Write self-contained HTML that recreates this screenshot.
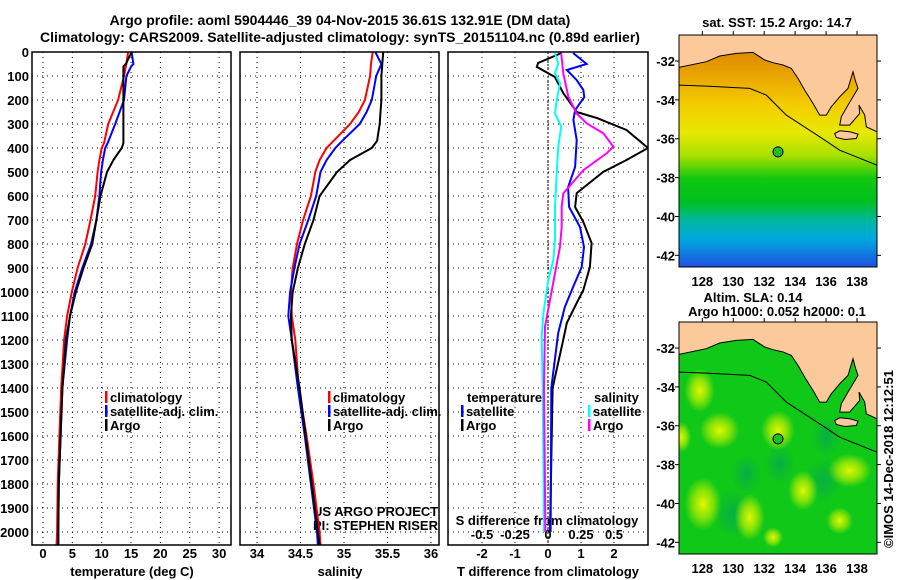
<!DOCTYPE html>
<html><head><meta charset="utf-8"><style>
html,body{margin:0;padding:0;background:#fff;}
svg{display:block;font-family:"Liberation Sans",Arial,sans-serif;}
.b{font-weight:bold;font-size:13px;}
.t{font-weight:bold;font-size:14px;}
</style></head><body>
<svg id="chart" width="900" height="580" viewBox="0 0 900 580" xmlns="http://www.w3.org/2000/svg">
<defs>
<linearGradient id="sstg" x1="0" y1="0" x2="0" y2="1">
<stop offset="0" stop-color="#d67800"/><stop offset="0.16" stop-color="#e8a000"/><stop offset="0.3" stop-color="#f4cc00"/>
<stop offset="0.42" stop-color="#e8e800"/><stop offset="0.52" stop-color="#a8e000"/><stop offset="0.62" stop-color="#10c810"/>
<stop offset="0.72" stop-color="#00c020"/><stop offset="0.8" stop-color="#00b8a0"/><stop offset="0.88" stop-color="#00a8e0"/>
<stop offset="1" stop-color="#2050e0"/></linearGradient>
<radialGradient id="blob"><stop offset="0" stop-color="#e0f800" stop-opacity="1"/><stop offset="0.5" stop-color="#c0f000" stop-opacity="0.7"/><stop offset="1" stop-color="#c0f000" stop-opacity="0"/></radialGradient>
<radialGradient id="dblob"><stop offset="0" stop-color="#00a060" stop-opacity="0.6"/><stop offset="1" stop-color="#00a060" stop-opacity="0"/></radialGradient>
<clipPath id="creditclip"><rect x="240" y="495" width="198" height="45"/></clipPath>
</defs>
<text class="t" x="340" y="25" text-anchor="middle">Argo profile: aoml 5904446_39 04-Nov-2015 36.61S 132.91E (DM data)</text>
<text class="t" x="340" y="42" text-anchor="middle">Climatology: CARS2009. Satellite-adjusted climatology: synTS_20151104.nc (0.89d earlier)</text>
<g id="plots"></g>
<g id="maps"></g>
</svg>
<script>
// ---- data ----
const tDepth = [0,50,60,100,200,300,380,400,450,500,600,700,800,900,1000,1100,1200,1400,1600,1800,2000,2055];
const tArgo  = [15.1,14.1,13.7,13.7,13.7,13.7,13.7,13.4,12.0,10.9,9.8,9.1,8.4,6.9,5.6,4.6,3.9,3.3,3.0,2.7,2.6,2.6];
const tClim  = [14.5,14.2,14.1,13.8,12.8,11.1,10.4,10.0,9.6,9.3,8.9,8.1,7.2,5.9,4.9,4.1,3.6,3.1,2.8,2.5,2.4,2.3];
const tSat   = [15.1,15.4,15.0,14.2,13.8,12.3,11.0,10.6,10.2,9.9,9.6,9.1,8.2,6.7,5.4,4.6,4.1,3.3,3.0,2.7,2.6,2.6];
const sDepth = [0,50,100,200,250,300,370,400,450,500,600,700,800,900,1000,1100,1200,1400,1600,1800,2000,2055];
const sArgo  = [35.45,35.44,35.43,35.43,35.42,35.41,35.38,35.32,35.07,34.92,34.72,34.65,34.55,34.47,34.41,34.39,34.40,34.49,34.56,34.63,34.70,34.72];
const sClim  = [35.33,35.31,35.30,35.24,35.17,35.07,34.88,34.80,34.72,34.67,34.62,34.53,34.46,34.41,34.39,34.40,34.44,34.48,34.57,34.65,34.72,34.73];
const sSat   = [35.36,35.43,35.37,35.32,35.26,35.18,34.98,34.90,34.80,34.73,34.68,34.59,34.49,34.43,34.38,34.36,34.40,34.47,34.55,34.62,34.69,34.70];
const dTDepth = [4,46,62,104,171,250,275,325,400,450,500,588,646,708,796,896,992,1046,1129,1200,1400,1700,2000];
const dTArgo  = [0.41,-0.30,-0.34,0.21,0.46,0.87,1.48,2.38,3.03,2.38,1.67,0.87,0.82,1.07,1.32,1.27,1.07,0.87,0.57,0.46,0.14,0.10,0.06];
const dTSatDepth = [4,50,75,117,158,188,242,283,367,479,563,646,729,813,896,979,1063,1171,1400,1700,2000];
const dTSat   = [0.76,1.17,0.57,0.87,1.07,1.10,0.82,0.77,0.87,0.82,0.61,0.64,0.97,1.09,1.02,0.76,0.51,0.31,0.10,0.09,0.08];
const dSSatDepth = [6,47,89,131,200,256,311,394,506,644,783,867,950,1089,1186,1400,1700,2000];
const dSSat   = [0.053,0.078,0.053,0.091,0.066,0.053,0.100,0.078,0.066,0.053,0.053,0.040,0.002,-0.035,-0.048,-0.040,-0.035,-0.030];
const dSArgoDepth = [6,89,186,256,297,339,394,422,492,589,644,728,811,922,1033,1144,1400,1700,2000];
const dSArgo  = [0.10,0.116,0.154,0.217,0.293,0.42,0.495,0.445,0.268,0.116,0.104,0.104,0.091,0.053,0.015,-0.023,-0.030,-0.025,-0.020];
const depthTicks = [0,100,200,300,400,500,600,700,800,900,1000,1100,1200,1300,1400,1500,1600,1700,1800,1900,2000];
const tTicks = [0,5,10,15,20,25,30];
const sTicks = [34,34.5,35,35.5,36];
const dTTicks = [-2,-1,0,1,2];
const dSTicks = [-0.5,-0.25,0,0.25,0.5];
const latTicks = [-32,-34,-36,-38,-40,-42];
const lonTicks = [128,130,132,134,136,138];

const NS='http://www.w3.org/2000/svg';
const plots=document.getElementById('plots');
function mk(tag,attrs,parent){const e=document.createElementNS(NS,tag);for(const k in attrs)e.setAttribute(k,attrs[k]);(parent||plots).appendChild(e);return e;}
function txt(s,x,y,anchor,cls,parent){const e=mk('text',{x:x,y:y,'text-anchor':anchor||'middle',class:cls||'b'},parent);e.textContent=s;return e;}

const Y0=52, PY=0.24, YB=545;
const yD=d=>Y0+d*PY;
const xT=v=>43+v*5.87;
const xS=v=>257+(v-34)*87;
const xDT=v=>548+v*33;
const xDS=v=>548+v*132;

const panels=[{x0:32,x1:231,name:'temperature-panel'},{x0:240,x1:439,name:'salinity-panel'},{x0:448,x1:648,name:'difference-panel'}];

panels.forEach((p,i)=>{
  const g=mk('g',{});
  
  
  depthTicks.slice(1).forEach(d=>{
    const l=mk('line',{x1:p.x0,x2:p.x1,y1:yD(d),y2:yD(d),stroke:'#000','stroke-width':1,'stroke-dasharray':'1,4'},g);
    
    
  });
  const xs = i===0? tTicks.map(xT) : i===1? sTicks.map(xS) : dTTicks.map(xDT);
  xs.forEach(x=>{
    const l=mk('line',{x1:x,x2:x,y1:Y0,y2:YB,stroke:'#000','stroke-width':1,'stroke-dasharray':'1,4'},g);
    
    
  });
});

depthTicks.forEach(d=>{
  const t=txt(String(d),29,yD(d)+5,'end');
  
  
});
tTicks.forEach(v=>{const t=txt(String(v),xT(v),558);
  
  });
sTicks.forEach(v=>{const t=txt(String(v),xS(v),558);
  
  });
dTTicks.forEach(v=>{const t=txt(String(v),xDT(v),558);
  
  });
dSTicks.forEach(v=>{const t=txt(String(v),xDS(v),539);
  
  });
let a;
a=txt('temperature (deg C)',132,576);
a=txt('salinity',340,576);
a=txt('T difference from climatology',548,576);
a=txt('S difference from climatology',547,525);
a=txt('US ARGO PROJECT',313,516,'start','');a.setAttribute('font-size','12');a.setAttribute('clip-path','url(#creditclip)');
a=txt('PI: STEPHEN RISER',313,530,'start','');a.setAttribute('font-size','12');a.setAttribute('clip-path','url(#creditclip)');

a=mk('line',{x1:xDT(0),x2:xDT(0),y1:Y0,y2:YB,stroke:'#000','stroke-width':1,'stroke-dasharray':'2,2'});

panels.forEach((p,i)=>{const c=mk('clipPath',{id:'clip'+i});mk('rect',{x:p.x0,y:Y0,width:p.x1-p.x0,height:YB-Y0},c);});

function series(xs,ds,fx,color,clip,name,w){
  const pts=xs.map((v,i)=>fx(v).toFixed(1)+','+yD(ds[i]).toFixed(1)).join(' ');
  const e=mk('polyline',{points:pts,fill:'none',stroke:color,'stroke-width':w||2,'clip-path':'url(#clip'+clip+')'});
  
  
}
series(tClim,tDepth,xT,'#ff0000',0,'temperature-climatology-line');
series(tSat,tDepth,xT,'#0000ff',0,'temperature-satellite-line');
series(tArgo,tDepth,xT,'#000000',0,'temperature-argo-line');
series(sClim,sDepth,xS,'#ff0000',1,'salinity-climatology-line');
series(sSat,sDepth,xS,'#0000ff',1,'salinity-satellite-line');
series(sArgo,sDepth,xS,'#000000',1,'salinity-argo-line');
series(dTArgo,dTDepth,xDT,'#000000',2,'tdiff-argo-line');
series(dTSat,dTSatDepth,xDT,'#0000ff',2,'tdiff-satellite-line');
series(dSSat,dSSatDepth,xDS,'#00ffff',2,'sdiff-satellite-line');
series(dSArgo,dSArgoDepth,xDS,'#ff00ff',2,'sdiff-argo-line');

panels.forEach(p=>{const r=mk('rect',{x:p.x0,y:Y0,width:p.x1-p.x0,height:YB-Y0,fill:'none',stroke:'#000','stroke-width':1.5});
  
  });

function leg(x,y,color,label,name){
  mk('rect',{x:x,y:y-11,width:2.5,height:12,fill:color});
  const t=txt(label,x+5,y,'start');
  
  
}
leg(105,402,'#ff0000','climatology','temp-legend-climatology');
leg(105,416,'#0000ff','satellite-adj. clim.','temp-legend-satellite');
leg(105,430,'#000000','Argo','temp-legend-argo');
leg(328,402,'#ff0000','climatology','sal-legend-climatology');
leg(328,416,'#0000ff','satellite-adj. clim.','sal-legend-satellite');
leg(328,430,'#000000','Argo','sal-legend-argo');
a=txt('temperature',467,402,'start');
leg(461,416,'#0000ff','satellite','tdiff-legend-satellite');
leg(461,430,'#000000','Argo','tdiff-legend-argo');
a=txt('salinity',594,402,'start');
leg(588,416,'#00ffff','satellite','sdiff-legend-satellite');
leg(588,430,'#ff00ff','Argo','sdiff-legend-argo');

// ---- maps ----
const maps=document.getElementById('maps');
const coast=[[118,105],[118,202],[200,185],[240,168],[290,160],[340,157],[375,180],[400,188],[430,195],[455,205],[475,235],[495,270],[520,310],[540,345],[560,345],[575,320],[600,290],[625,265],[640,215],[648,245],[655,265],[640,290],[625,315],[605,350],[600,375],[630,375],[660,340],[658,315],[675,345],[680,380],[712,395],[712,105]];
const island=[[585,400],[600,392],[630,395],[655,402],[650,415],[615,418],[590,412]];
const iso=[[118,255],[200,258],[330,265],[380,285],[440,345],[540,410],[600,450],[712,495]];
function drawMap(top,kind){
  const L=679,R=877,H=232,W=R-L;
  const sx=v=>L+(v-118)/594*W, sy=v=>top+(v-105)/695*H;
  const g=mk('g',{},maps);
  
  
  const cp=mk('clipPath',{id:'mc'+kind},g);mk('rect',{x:L,y:top,width:W,height:H},cp);
  const inner=mk('g',{'clip-path':'url(#mc'+kind+')'},g);
  if(kind==='sst'){
    mk('rect',{x:L,y:top,width:W,height:H,fill:'url(#sstg)'},inner);
  } else {
    mk('rect',{x:L,y:top,width:W,height:H,fill:'#10c818'},inner);
    [[280,680,20,25],[550,580,18,22],[420,530,15,20],[320,560,15,20],[560,450,15,20]].forEach(b=>{
      mk('ellipse',{cx:sx(b[0]),cy:sy(b[1]),rx:b[2],ry:b[3],fill:'url(#dblob)'},inner);
    });
    [[180,310,45,65],[240,430,60,55],[415,430,50,60],[190,650,55,80],[330,690,45,70],[490,610,45,60],[630,550,65,50],[125,450,30,45],[600,700,40,40],[400,750,30,30]].forEach(b=>{
      mk('ellipse',{cx:sx(b[0]),cy:sy(b[1]),rx:b[2]/3,ry:b[3]/3,fill:'url(#blob)'},inner);
    });
  }
  mk('polygon',{points:coast.map(p=>sx(p[0]).toFixed(1)+','+sy(p[1]).toFixed(1)).join(' '),fill:'#fcca9a',stroke:'#000','stroke-width':1},inner);
  mk('polygon',{points:island.map(p=>sx(p[0]).toFixed(1)+','+sy(p[1]).toFixed(1)).join(' '),fill:'#fcca9a',stroke:'#000','stroke-width':1},inner);
  mk('polyline',{points:iso.map(p=>sx(p[0]).toFixed(1)+','+sy(p[1]).toFixed(1)).join(' '),fill:'none',stroke:'#000','stroke-width':1},inner);
  const m=mk('circle',{cx:sx(415),cy:sy(455),r:5,fill:'#20c020',stroke:'#000','stroke-width':1},g);
  
  
  mk('rect',{x:L,y:top,width:W,height:H,fill:'none',stroke:'#000','stroke-width':1},g);
  latTicks.forEach((v,i)=>{
    const y=sy(183+i*116.4);
    const t=txt(String(v),675,y+5,'end','b',g);
    
    
    mk('line',{x1:L-4,x2:L,y1:y,y2:y,stroke:'#000'},g);
    mk('line',{x1:R,x2:R+4,y1:y,y2:y,stroke:'#000'},g);
  });
  lonTicks.forEach((v,i)=>{
    const x=sx(188+i*92.8);
    const t=txt(String(v),x,top+H+19,'middle','b',g);
    
    
    mk('line',{x1:x,x2:x,y1:top-4,y2:top,stroke:'#000'},g);
  });
}
drawMap(35,'sst');
drawMap(322,'sla');
a=txt('sat. SST: 15.2 Argo: 14.7',777,27,'middle','b',maps);
a=txt('Altim. SLA: 0.14',753,302,'middle','b',maps);
a=txt('Argo h1000: 0.052 h2000: 0.1',777,316,'middle','b',maps);
a=txt('©IMOS 14-Dec-2018 12:12:51',0,0,'start','',maps);
a.setAttribute('font-size','12');
a.setAttribute('transform','translate(893,548) rotate(-90)');

</script>
</body></html>
